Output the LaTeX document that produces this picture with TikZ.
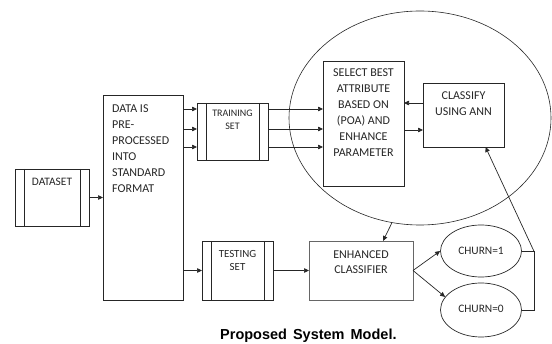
\documentclass[tikz,border=0pt]{standalone}
\usepackage{fontspec}
\setmainfont{Carlito}
\newfontfamily\capfont{Liberation Sans}
\usetikzlibrary{positioning,calc,shapes.geometric,arrows.meta}

\tikzset{
  blk/.style={draw=black!85, line width=0.7pt, inner sep=0pt, outer sep=0pt},
  bars/.style={blk, path picture={
      \draw[black!85, line width=0.7pt]
        ([xshift=9pt]path picture bounding box.north west) -- ([xshift=9pt]path picture bounding box.south west)
        ([xshift=-9pt]path picture bounding box.north east) -- ([xshift=-9pt]path picture bounding box.south east);}},
  txt/.style={inner sep=0pt, text=black!85},
  arr/.style={line width=0.7pt, black!85, -{Triangle[length=5pt,width=4.5pt]}},
  lin/.style={line width=0.7pt, black!85}
}

\begin{document}
\begin{tikzpicture}[x=1pt, y=-1pt]
  \useasboundingbox (0,0) rectangle (552,344);

  % the big ellipse round the attribute selection
  \node[draw=black!85, line width=0.6pt, ellipse, minimum width=262, minimum height=214, inner sep=0pt] (big) at (420,118) {};

  % blocks
  \node[bars, minimum width=74, minimum height=57] (ds) at (52,197.5) {};
  \node[blk, minimum width=80, minimum height=205] (prep) at (143,197.5) {};
  \node[bars, minimum width=71, minimum height=57] (train) at (232.5,131.5) {};
  \node[bars, minimum width=71, minimum height=59] (test) at (237.5,270.5) {};
  \node[blk, minimum width=81, minimum height=125] (sel) at (363.5,123.5) {};
  \node[blk, minimum width=81, minimum height=64] (ann) at (463.5,115) {};
  \node[blk, draw=black!60, minimum width=104, minimum height=59] (enh) at (361,270.5) {};
  \node[draw=black!85, line width=0.7pt, ellipse, minimum width=81, minimum height=52, inner sep=0pt] (c1) at (481,251) {};
  \node[draw=black!85, line width=0.7pt, ellipse, minimum width=81, minimum height=54, inner sep=0pt] (c0) at (481,310) {};

  % texts
  \node[txt, font=\fontsize{11.4}{14}\selectfont, below=9pt of ds.north] (ds-t) {DATASET};
  \node[txt, font=\fontsize{12}{16}\selectfont, align=left, below right=10pt and 9pt of prep.north west] (prep-t)
    {DATA IS\\PRE-\\PROCESSED\\INTO\\STANDARD\\FORMAT};
  \node[txt, font=\fontsize{10}{13}\selectfont, align=center, below=7pt of train.north] (train-t) {TRAINING\\SET};
  \node[txt, font=\fontsize{10.9}{13}\selectfont, align=center, below=9pt of test.north] (test-t) {TESTING\\SET};
  \node[txt, font=\fontsize{12}{16}\selectfont, align=center, below=8pt of sel.north] (sel-t)
    {SELECT BEST\\ATTRIBUTE\\BASED ON\\(POA) AND\\ENHANCE\\PARAMETER};
  \node[txt, font=\fontsize{12}{15.7}\selectfont, align=center, below=9pt of ann.north] (ann-t) {CLASSIFY\\USING ANN};
  \node[txt, font=\fontsize{12}{15}\selectfont, align=center, below=10pt of enh.north] (enh-t) {ENHANCED\\CLASSIFIER};
  \node[txt, font=\fontsize{11.4}{14}\selectfont, above=-4pt of c1.center] (c1-t) {CHURN=1};
  \node[txt, font=\fontsize{11.4}{14}\selectfont, above=-3pt of c0.center] (c0-t) {CHURN=0};

  % connectors
  \draw[arr] (ds.east) -- (ds.east -| prep.west);
  \foreach \dy [count=\i] in {-22.5,-2.5,15.5}{
    \coordinate (tin\i) at ($(train.west)+(0,\dy)$);
    \coordinate (tout\i) at ($(train.east)+(0,\dy)$);
    \draw[arr] (tin\i -| prep.east) -- (tin\i);
    \draw[arr] (tout\i) -- (tout\i -| sel.west);
  }
  \coordinate (back) at ($(ann.west)+(0,-12)$);
  \coordinate (fwd) at ($(ann.west)+(0,15)$);
  \draw[arr] (back) -- (back -| sel.east);
  \draw[arr] (fwd -| sel.east) -- (fwd);
  \draw[arr] (prep.east |- test.west) -- (test.west);
  \draw[arr] (test.east) -- (enh.west);
  \draw[arr] (big.255) -- ([xshift=22pt]enh.north);
  \draw[arr] (enh.east) -- (c1.west);
  \draw[arr] (enh.east) -- (c0.160);
  \coordinate (fb) at ([xshift=12pt]c1.east);
  \draw[lin] (c0.east) -| (fb) -- (c1.east);
  \draw[arr] (fb) -- ([xshift=22pt]ann.south);

  \node[font=\capfont\bfseries\fontsize{14.5}{16}\selectfont, anchor=base west, inner sep=0pt] (cap) at (220,340)
    {Proposed\hspace{6pt}System\hspace{6pt}Model.};
\end{tikzpicture}
\end{document}
